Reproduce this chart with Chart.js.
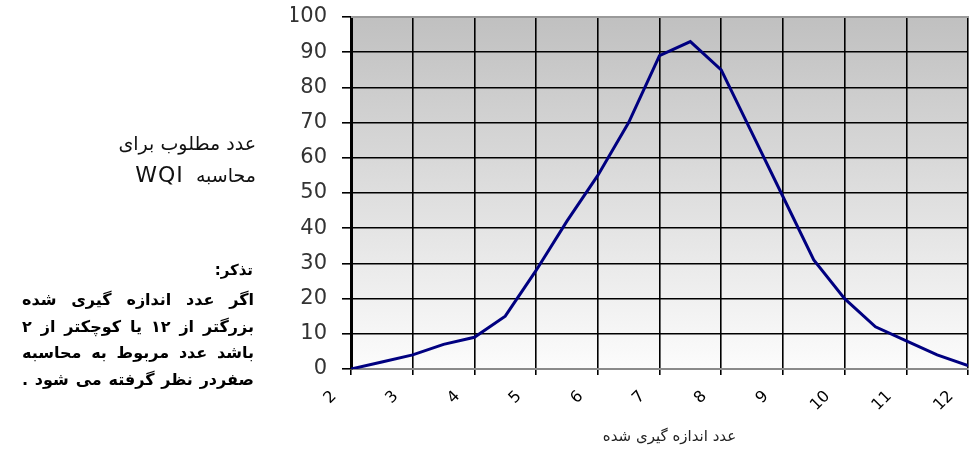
<!DOCTYPE html>
<html>
<head>
<meta charset="utf-8">
<script src="https://cdn.jsdelivr.net/npm/chart.js@4.4.0/dist/chart.umd.min.js"></script>
<style>
    html, body { margin: 0; padding: 0; background: #fff; }
    #wrap { position: relative; width: 969px; height: 449px; }
    #chart { position: absolute; left: 0; top: 0; }
    .side { position: absolute; direction: rtl; font-family: "DejaVu Sans", sans-serif; color: #000; white-space: nowrap; }
    .need { right: 713px; font-size: 19px; line-height: 31px; top: 128px; text-align: right; color: #111; }
    .need .wqi { font-size: 22px; letter-spacing: 1px; }
    .note-head { right: 716px; top: 261px; font-size: 15px; font-weight: bold; }
    .note { right: 715px; top: 287px; width: 232px; font-size: 16px; font-weight: bold; line-height: 26.5px; }
    .note div { text-align: justify; text-align-last: justify; }
</style>
</head>
<body>
<div id="wrap">
    <canvas id="chart" width="969" height="449"></canvas>
    <div class="side need">عدد مطلوب برای<br>محاسبه&nbsp; <span class="wqi">WQI</span></div>
    <div class="side note-head">تذکر:</div>
    <div class="side note">
        <div>اگر عدد اندازه گیری شده</div>
        <div>بزرگتر از ۱۲ یا کوچکتر از ۲</div>
        <div>باشد عدد مربوط به محاسبه</div>
        <div>صفردر نظر گرفته می شود .</div>
    </div>
</div>
<script>
    // measured value (x) and the number used for WQI (y)
    const measured = [2, 2.5, 3, 3.5, 4, 4.5, 5, 5.5, 6, 6.5, 7, 7.5, 8, 8.5, 9, 9.5, 10, 10.5, 11, 11.5, 12];
    const wqiValues = [0, 2, 4, 7, 9, 15, 28, 42, 55, 70, 89, 93, 85, 67, 49, 31, 20, 12, 8, 4, 1];
    const xTitle = 'عدد اندازه گیری شده';

    const points = measured.map((x, i) => ({ x: x, y: wqiValues[i] }));

    // gray to white fill behind the plot, gray top border, axis title
    const plotBackground = {
        id: 'plotBackground',
        beforeDraw(chart) {
            const { ctx, chartArea: a } = chart;
            const g = ctx.createLinearGradient(0, a.top, 0, a.bottom);
            g.addColorStop(0, '#c0c0c0');
            g.addColorStop(1, '#fcfcfc');
            ctx.save();
            ctx.fillStyle = g;
            ctx.fillRect(a.left, a.top, a.right - a.left, a.bottom - a.top);
            ctx.restore();
        },
        afterDraw(chart) {
            const { ctx, chartArea: a } = chart;
            ctx.save();
            ctx.strokeStyle = '#9a9a9a';
            ctx.lineWidth = 2;
            ctx.beginPath();
            ctx.moveTo(a.left, a.top);
            ctx.lineTo(a.right + 1, a.top);
            ctx.stroke();

            ctx.fillStyle = '#222';
            ctx.font = '15px "DejaVu Sans"';
            ctx.textAlign = 'center';
            ctx.textBaseline = 'middle';
            ctx.direction = 'rtl';
            ctx.fillText(xTitle, (a.left + a.right) / 2 + 10, 437);
            ctx.restore();
        }
    };

    new Chart(document.getElementById('chart').getContext('2d'), {
        type: 'line',
        data: {
            datasets: [{
                data: points,
                borderColor: '#000080',
                borderWidth: 3,
                pointRadius: 0,
                tension: 0,
                fill: false
            }]
        },
        options: {
            responsive: false,
            animation: false,
            layout: { padding: { left: 291, right: 1, top: 17, bottom: 0 } },
            plugins: {
                legend: { display: false },
                tooltip: { enabled: false }
            },
            scales: {
                x: {
                    type: 'linear',
                    min: 2,
                    max: 12,
                    afterFit: (s) => {
                        s.height = 80;
                        s.paddingLeft = 0;
                        s.paddingRight = 0;
                    },
                    grid: { color: '#000', lineWidth: 1.6, tickLength: 6, tickColor: '#000' },
                    border: { color: '#8a8a8a', width: 2 },
                    ticks: {
                        stepSize: 1,
                        minRotation: 45,
                        maxRotation: 45,
                        labelOffset: -17,
                        padding: 12,
                        color: '#000',
                        font: { family: 'DejaVu Sans', size: 16 }
                    }
                },
                y: {
                    min: 0,
                    max: 100,
                    afterFit: (s) => {
                        s.width = 60;
                        s.paddingTop = 0;
                        s.paddingBottom = 0;
                    },
                    grid: { color: '#000', lineWidth: 1.6, tickLength: 9, tickColor: '#000' },
                    border: { color: '#000', width: 3 },
                    ticks: {
                        stepSize: 10,
                        padding: 15,
                        color: '#333',
                        font: { family: 'DejaVu Sans', size: 21 }
                    }
                }
            }
        },
        plugins: [plotBackground]
    });
</script>
</body>
</html>
